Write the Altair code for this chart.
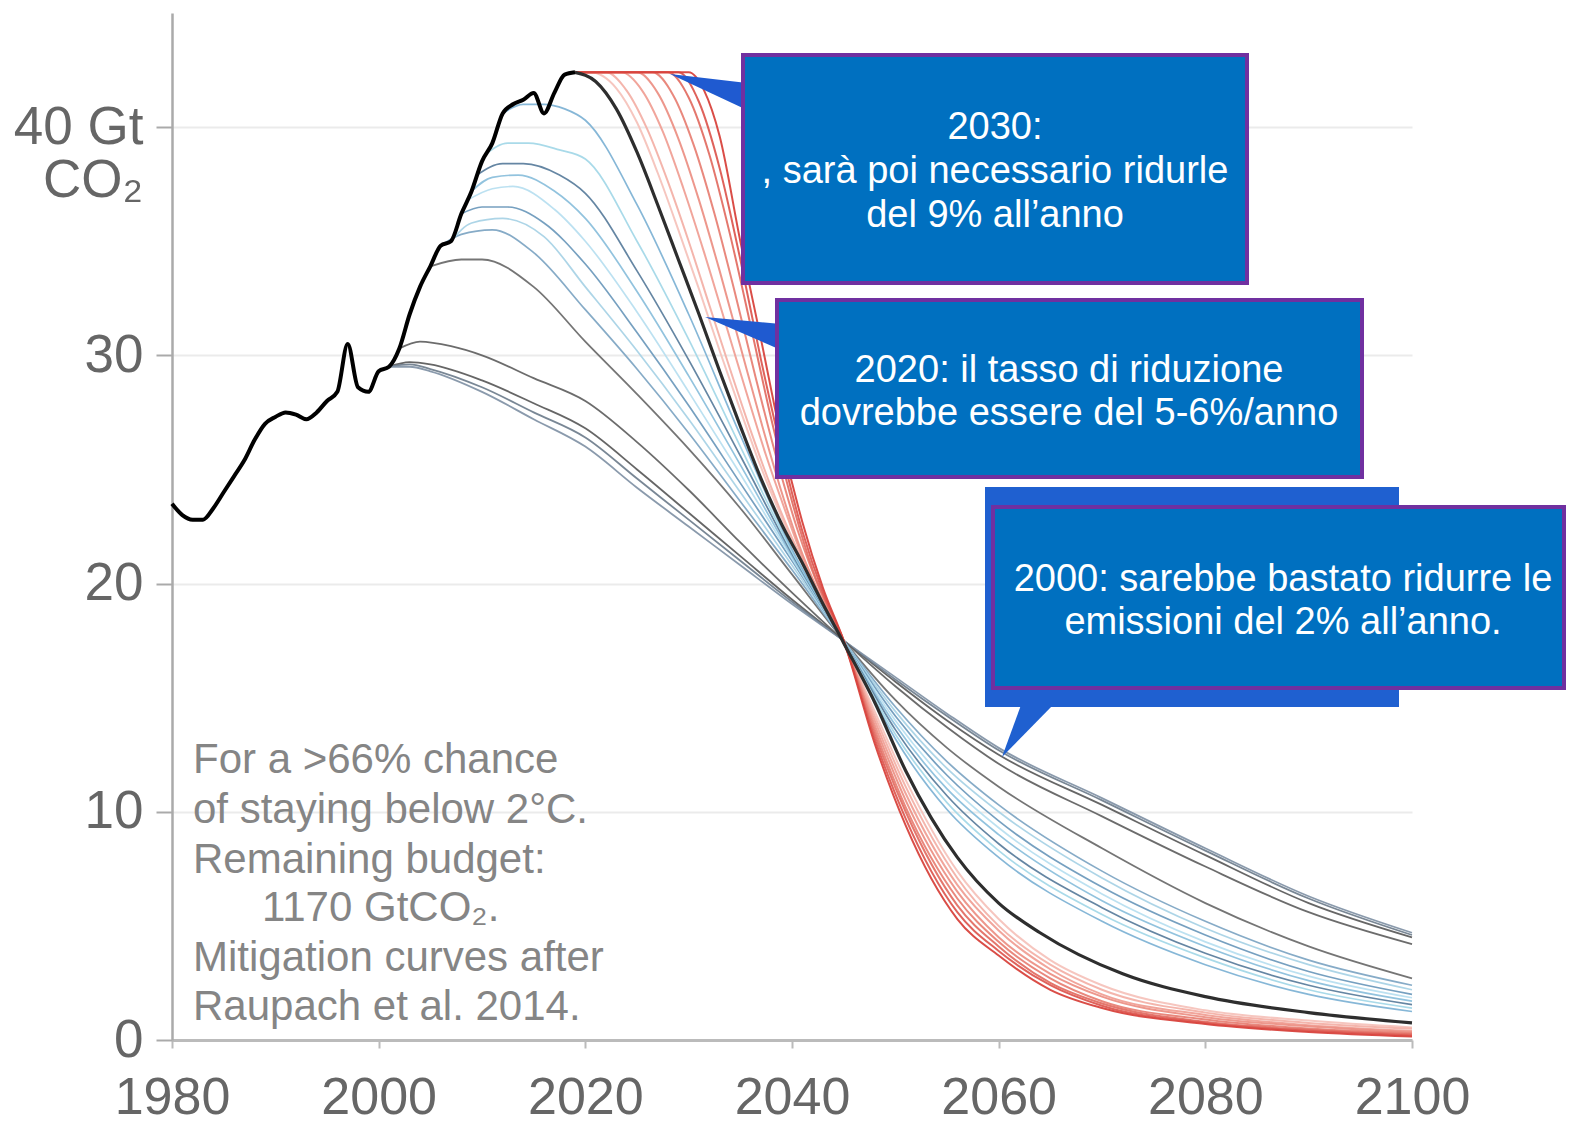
import altair as alt
import pandas as pd

# ---------------- data ----------------
HIST_YEARS = list(range(1980, 2020))
HIST_VALUES = [23.5, 23.0, 22.8, 22.8, 23.3, 24.0, 24.7, 25.4, 26.3, 27.0,
               27.3, 27.5, 27.4, 27.2, 27.5, 28.0, 28.4, 30.5, 28.6, 28.4,
               29.3, 29.5, 30.3, 31.8, 33.0, 33.9, 34.8, 35.0, 36.2, 37.2,
               38.5, 39.3, 40.6, 41.0, 41.2, 41.5, 40.6, 41.5, 42.3, 42.4]

E_YEARS_1 = [2001, 2003, 2005, 2010, 2015, 2020, 2025, 2030, 2035, 2040, 2045, 2050, 2055, 2060, 2070, 2080, 2090, 2100]
E1A = [29.5, 29.7, 29.6, 28.9, 27.9, 26.8, 25.0, 23.1, 21.2, 19.3, 17.5, 15.7, 14.0, 12.5, 10.3, 8.1, 6.0, 4.5]
E1B = [29.5, 29.6, 29.4, 28.6, 27.5, 26.4, 24.6, 22.8, 21.0, 19.2, 17.5, 15.8, 14.2, 12.7, 10.5, 8.3, 6.2, 4.6]
E1C = [29.5, 29.5, 29.3, 28.4, 27.2, 26.0, 24.2, 22.5, 20.8, 19.1, 17.5, 15.9, 14.3, 12.8, 10.6, 8.4, 6.3, 4.7]
E2_YEARS = [2002, 2004, 2007, 2010, 2015, 2020, 2025, 2030, 2035, 2040, 2045, 2050, 2055, 2060, 2070, 2080, 2090, 2100]
E2 = [30.3, 30.6, 30.4, 30.0, 29.0, 28.0, 26.2, 24.1, 21.8, 19.6, 17.5, 15.5, 13.7, 12.1, 9.8, 7.6, 5.6, 4.2]
E3_YEARS = [2005, 2008, 2010, 2015, 2020, 2025, 2030, 2035, 2040, 2045, 2050, 2055, 2060, 2070, 2080, 2090, 2100]
E3 = [33.9, 34.2, 34.2, 33.0, 30.6, 28.3, 25.9, 23.3, 20.4, 17.5, 14.9, 12.8, 11.1, 8.4, 6.0, 4.1, 2.7]

LATE_YEARS = [2020, 2025, 2030, 2035, 2040, 2045, 2050, 2055, 2060, 2070, 2080, 2090, 2100]
B1_EARLY, B1 = [2006, 2008, 2011, 2015], [34.8, 35.3, 35.5, 34.5, 32.0, 29.4, 26.6, 23.6, 20.6, 17.5, 14.6, 12.2, 10.3, 7.4, 5.2, 3.5, 2.4]
B2_EARLY, B2 = [2007, 2009, 2012, 2016], [35.0, 35.8, 36.0, 35.2, 33.0, 30.2, 27.2, 24.0, 20.8, 17.5, 14.4, 11.9, 10.0, 7.1, 4.9, 3.3, 2.2]
B3_EARLY, B3 = [2008, 2010, 2012.5, 2016], [36.2, 36.5, 36.5, 35.8, 34.0, 31.0, 27.8, 24.4, 21.0, 17.5, 14.2, 11.6, 9.6, 6.7, 4.6, 3.0, 2.0]
B4_EARLY, B4 = [2008.6, 2011, 2013, 2017], [36.8, 37.3, 37.4, 36.4, 35.0, 31.9, 28.4, 24.8, 21.1, 17.5, 14.0, 11.3, 9.3, 6.4, 4.3, 2.8, 1.85]
B5_EARLY, B5 = [2009, 2011, 2013.5, 2017], [37.2, 37.8, 37.9, 37.2, 36.0, 32.8, 29.1, 25.2, 21.2, 17.5, 13.8, 11.0, 9.0, 6.1, 4.1, 2.6, 1.7]
B6_EARLY, B6 = [2009.5, 2012, 2014, 2017.5], [37.9, 38.4, 38.4, 37.9, 37.1, 33.7, 29.8, 25.6, 21.3, 17.5, 13.6, 10.7, 8.6, 5.8, 3.8, 2.4, 1.55]
B7_EARLY, B7 = [2010.3, 2012.5, 2014.5, 2017.5], [38.8, 39.3, 39.3, 39.0, 38.6, 35.0, 30.7, 26.0, 21.4, 17.5, 13.4, 10.4, 8.3, 5.5, 3.6, 2.2, 1.4]
B8_EARLY, B8 = [2012, 2014, 2016, 2018], [40.6, 41.0, 41.0, 40.8, 40.3, 36.6, 31.8, 26.5, 21.5, 17.5, 13.2, 10.1, 8.0, 5.2, 3.3, 2.0, 1.25]

D_YEARS = [2019, 2021, 2023, 2025, 2027, 2029, 2031, 2033, 2035, 2037, 2039, 2041, 2043, 2045, 2048, 2051, 2056, 2060, 2064, 2072, 2080, 2090, 2100]
D_VALUES = [42.4, 42.0, 40.8, 38.9, 36.6, 34.2, 31.8, 29.3, 26.9, 24.6, 22.6, 20.9, 19.1, 17.4, 14.8, 11.8, 8.0, 6.0, 4.7, 2.9, 1.9, 1.2, 0.75]

R1_YEARS = [2019, 2020.5, 2023, 2025, 2027, 2029, 2031, 2033, 2035, 2037, 2039, 2041, 2043, 2045, 2048, 2051, 2056, 2060, 2065, 2070, 2080, 2090, 2100]
R1 = [42.4, 42.4, 41.7, 40.2, 38.0, 35.5, 32.9, 30.2, 27.6, 25.1, 22.9, 20.9, 19.1, 17.4, 14.4, 11.4, 7.4, 5.3, 3.5, 2.4, 1.3, 0.85, 0.55]
R2_YEARS = [2019, 2022, 2024, 2026, 2028, 2030, 2032, 2034, 2036, 2038, 2040, 2042, 2045, 2048, 2051, 2056, 2060, 2065, 2070, 2080, 2090, 2100]
R2 = [42.4, 42.4, 41.6, 39.9, 37.6, 35.0, 32.2, 29.4, 26.7, 24.2, 22.0, 20.1, 17.4, 14.2, 11.1, 7.1, 5.0, 3.3, 2.2, 1.2, 0.75, 0.5]
R3_YEARS = [2019, 2023.5, 2025.5, 2027.5, 2029.5, 2031.5, 2033.5, 2035.5, 2037.5, 2039.5, 2041.5, 2043, 2045, 2048, 2051, 2056, 2060, 2065, 2070, 2080, 2090, 2100]
R3 = [42.4, 42.4, 41.6, 39.8, 37.3, 34.5, 31.5, 28.5, 25.6, 23.0, 20.6, 19.1, 17.4, 14.0, 10.8, 6.8, 4.8, 3.1, 2.0, 1.1, 0.65, 0.4]
R4_YEARS = [2019, 2025, 2027, 2029, 2031, 2033, 2035, 2037, 2039, 2041, 2043, 2045, 2048, 2051, 2056, 2060, 2065, 2070, 2080, 2090, 2100]
R4 = [42.4, 42.4, 41.5, 39.5, 36.8, 33.7, 30.4, 27.1, 24.0, 21.3, 19.2, 17.4, 13.8, 10.5, 6.5, 4.5, 2.9, 1.9, 1.0, 0.6, 0.35]
R5_YEARS = [2019, 2026.5, 2028.5, 2030.5, 2032.5, 2034.5, 2036.5, 2038.5, 2040.5, 2043, 2045, 2048, 2051, 2056, 2060, 2065, 2070, 2080, 2090, 2100]
R5 = [42.4, 42.4, 41.4, 39.2, 36.2, 32.7, 29.0, 25.5, 22.4, 19.4, 17.5, 13.6, 10.2, 6.2, 4.3, 2.7, 1.7, 0.9, 0.5, 0.3]
R6_YEARS = [2019, 2028, 2030, 2032, 2034, 2036, 2038, 2040, 2042, 2045, 2048, 2051, 2056, 2060, 2065, 2070, 2080, 2090, 2100]
R6 = [42.4, 42.4, 41.3, 38.8, 35.3, 31.3, 27.2, 23.6, 20.6, 17.5, 13.4, 10.0, 5.9, 4.1, 2.5, 1.6, 0.8, 0.45, 0.25]
R7_YEARS = [2019, 2029, 2031, 2033, 2035, 2037, 2039, 2041, 2043, 2045, 2048, 2051, 2056, 2060, 2065, 2070, 2080, 2090, 2100]
R7 = [42.4, 42.4, 41.1, 38.2, 34.2, 29.8, 25.8, 22.3, 19.6, 17.5, 13.2, 9.7, 5.6, 3.9, 2.4, 1.5, 0.75, 0.4, 0.2]
R8_YEARS = [2019, 2030, 2031.5, 2033, 2035, 2037, 2039, 2041, 2043, 2045, 2048, 2051, 2056, 2060, 2065, 2070, 2080, 2090, 2100]
R8 = [42.4, 42.4, 41.6, 39.6, 35.0, 30.7, 26.3, 22.7, 19.8, 17.5, 13.0, 9.4, 5.3, 3.7, 2.2, 1.4, 0.7, 0.35, 0.15]

X_TICKS = [1980, 2000, 2020, 2040, 2060, 2080, 2100]
Y_TICKS = [0, 10, 20, 30, 40]

BOX_2030 = ["2030:", ", sarà poi necessario ridurle", "del 9% all\u2019anno"]
BOX_2020 = ["2020: il tasso di riduzione", "dovrebbe essere del 5-6%/anno"]
BOX_2000 = ["2000: sarebbe bastato ridurre le", "emissioni del 2% all\u2019anno."]
NOTE_A = ["For a >66% chance", "of staying below 2\u00b0C.", "Remaining budget:"]
NOTE_B = "1170 GtCO\u2082."
NOTE_C = ["Mitigation curves after", "Raupach et al. 2014."]


def rows(name, yrs, vals):
    return pd.DataFrame({"year": yrs, "value": vals, "curve": name})


gray_df = pd.concat([rows("E1a", E_YEARS_1, E1A), rows("E1b", E_YEARS_1, E1B),
                     rows("E1c", E_YEARS_1, E1C), rows("E2", E2_YEARS, E2),
                     rows("E3", E3_YEARS, E3)])
blue_df = pd.concat([rows(n, e + LATE_YEARS, v) for n, e, v in [
    ("B1", B1_EARLY, B1), ("B2", B2_EARLY, B2), ("B3", B3_EARLY, B3), ("B4", B4_EARLY, B4),
    ("B5", B5_EARLY, B5), ("B6", B6_EARLY, B6), ("B7", B7_EARLY, B7), ("B8", B8_EARLY, B8)]])
red_df = pd.concat([rows("R1", R1_YEARS, R1), rows("R2", R2_YEARS, R2), rows("R3", R3_YEARS, R3),
                    rows("R4", R4_YEARS, R4), rows("R5", R5_YEARS, R5), rows("R6", R6_YEARS, R6),
                    rows("R7", R7_YEARS, R7), rows("R8", R8_YEARS, R8)])
d_df = rows("D", D_YEARS, D_VALUES)
hist_df = rows("H", HIST_YEARS, HIST_VALUES)

# ---------------- styles ----------------
CURVES = ["E1a", "E1b", "E1c", "E2", "E3",
          "B1", "B2", "B3", "B4", "B5", "B6", "B7", "B8",
          "R1", "R2", "R3", "R4", "R5", "R6", "R7", "R8", "D", "H"]
COLORS = ["#555555", "#6a7a8a", "#7d8fa3", "#5c5c5c", "#666666",
          "#7fa6c4", "#a9d3e6", "#6f9bbd", "#b8dff0", "#8cc0dc", "#5d7f9e", "#a4d8e8", "#7fb3d5",
          "#f6c3bc", "#f3b1a8", "#f0a096", "#ec9186", "#e88276", "#e37065", "#dd5a52", "#d8433d",
          "#2e2e2e", "#000000"]
color_scale = alt.Scale(domain=CURVES, range=COLORS)
FONT = "Liberation Sans"
AX_GRAY = "#666666"

x_enc = alt.X("year:Q", scale=alt.Scale(domain=[1980, 2100], nice=False, zero=False),
              axis=alt.Axis(values=X_TICKS, format="d", title=None, grid=False,
                            domainColor="#bbbbbb", domainWidth=3, tickColor="#bbbbbb",
                            tickWidth=2, tickSize=8, labelFontSize=52, labelColor=AX_GRAY,
                            labelFont=FONT, labelPadding=24, labelFlush=False))
y_enc = alt.Y("value:Q", scale=alt.Scale(domain=[0, 45], nice=False),
              axis=alt.Axis(values=Y_TICKS, title=None, grid=True, gridColor="#ebebeb", gridWidth=2,
                            labelExpr="datum.value == 40 ? '40 Gt' : datum.label",
                            domainColor="#aaaaaa", domainWidth=2.5, tickColor="#aaaaaa",
                            tickWidth=2, tickSize=16, labelFontSize=53, labelColor=AX_GRAY,
                            labelFont=FONT, labelPadding=13))


def line_layer(df, width, opacity=1.0):
    return alt.Chart(df).mark_line(interpolate="monotone", strokeWidth=width, opacity=opacity).encode(
        x=x_enc, y=y_enc,
        color=alt.Color("curve:N", scale=color_scale, legend=None),
        detail="curve:N")


one = pd.DataFrame({"k": [0]})

def rect(x1, x2, y1, y2, fill, stroke=None, sw=0):
    kw = dict(fill=fill)
    if stroke:
        kw.update(stroke=stroke, strokeWidth=sw)
    return alt.Chart(one).mark_rect(**kw).encode(
        x=alt.value(x1), x2=alt.value(x2), y=alt.value(y1), y2=alt.value(y2))


def tail(x, y, path, fill):
    return alt.Chart(one).mark_point(shape=path, size=4, filled=True, fill=fill,
                                     opacity=1, strokeWidth=0).encode(
        x=alt.value(x), y=alt.value(y))


def label(x, y, lines, size, color, align="center", lh=43):
    # y is the centre of the first line
    return alt.Chart(one).mark_text(font=FONT, fontSize=size, color=color, align=align,
                                    baseline="middle", lineHeight=lh).encode(
        x=alt.value(x), y=alt.value(y), text=alt.value(lines))


BOX_BLUE = "#0070c0"
TAIL_BLUE = "#1f5ad0"
PURPLE = "#7030a0"
NOTE_GRAY = "#858585"

layers = [
    line_layer(gray_df, 1.8, 0.9),
    line_layer(blue_df, 1.7, 0.95),
    line_layer(red_df, 2.0, 0.95),
    line_layer(d_df, 3.2),
    line_layer(hist_df, 4.0),
    # "CO2" second line of the 40 label
    label(-29, 168, "CO\u2082", 53, AX_GRAY, align="right"),
    # note text
    label(21, 747, NOTE_A, 42, NOTE_GRAY, align="left", lh=50),
    label(90, 895, NOTE_B, 42, NOTE_GRAY, align="left"),
    label(21, 945, NOTE_C, 42, NOTE_GRAY, align="left", lh=49),
    # callout tails
    tail(575, 70, "M0,0L-77,-9L0,27Z", TAIL_BLUE),
    tail(609, 311, "M0,0L-76,-7L0,26Z", TAIL_BLUE),
    # back box (2000) and its tail
    rect(813, 1227, 474, 694, "#1f60d0"),
    tail(849, 692, "M0,0L-19,52L32,0Z", "#1f60d0"),
    # boxes
    rect(571, 1075, 42, 270, BOX_BLUE, PURPLE, 4),
    rect(605, 1190, 287, 464, BOX_BLUE, PURPLE, 4),
    rect(821, 1392, 494, 675, BOX_BLUE, PURPLE, 4),
    label(823, 115, BOX_2030, 38, "white", lh=44),
    label(897, 358, BOX_2020, 38, "white"),
    label(1111, 567, BOX_2000, 38, "white"),
]

chart = alt.layer(*layers).properties(
    width=1240, height=1027,
    autosize=alt.AutoSizeParams(type="none"),
    padding={"left": 164, "top": 5, "right": 154, "bottom": 80},
    background="white",
).configure_view(stroke=None)

chart.save("out.html", embed_options={"renderer": "svg", "actions": False})
